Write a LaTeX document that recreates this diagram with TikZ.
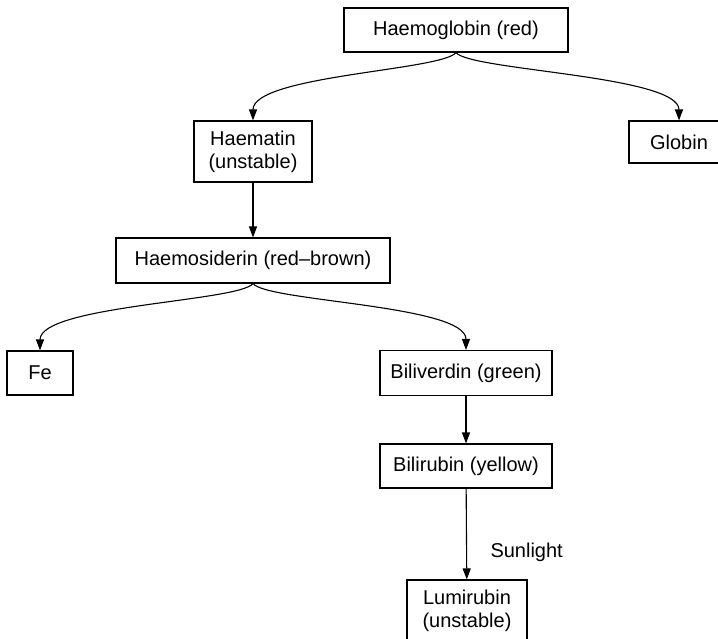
\documentclass[tikz,border=0pt]{standalone}
\usepackage{fontspec}
\setmainfont{Liberation Sans}
\usetikzlibrary{arrows.meta}

\begin{document}
\begin{tikzpicture}[
		x=1pt, y=-1pt,
		>={Triangle[length=11pt,width=8pt]},
		box/.style  ={rectangle,draw,line width=1.1pt,inner sep=0pt,align=center,
		              font=\fontsize{20}{23}\selectfont},
		link/.style ={draw,->,line width=1.1pt},
		split/.style={draw,->,line width=1.1pt}
		]

		\useasboundingbox (0,0) rectangle (718,638);

		% ---- top: haemoglobin and its two products ----
		\node[box,minimum width=224pt,minimum height=44pt] (hb)     at (456,30)    {Haemoglobin (red)};
		\node[box,minimum width=118pt,minimum height=61pt] (hmatin) at (253,151.5) {Haematin\\(unstable)};
		\node[box,minimum width=100pt,minimum height=42pt] (globin) at (679,142)   {Globin};

		% ---- haemosiderin and its split ----
		\node[box,minimum width=274pt,minimum height=45pt] (hsid)   at (253,260.5) {Haemosiderin (red--brown)};
		\node[box,minimum width=66pt, minimum height=44pt] (fe)     at (40,373)    {Fe};
		\node[box,minimum width=172pt,minimum height=45pt] (bv)     at (466,373)   {Biliverdin (green)};

		% ---- bile pigments ----
		\node[box,minimum width=172pt,minimum height=44pt] (br)     at (466,466)   {Bilirubin (yellow)};
		\node[box,minimum width=120pt,minimum height=62pt] (lumi)   at (467,611)   {Lumirubin\\(unstable)};
		\node[font=\fontsize{20}{23}\selectfont,anchor=west] (sun) at (487,552) {Sunlight};

		% ---- curved splits ----
		\draw[split] (hb.south) .. controls +(-14,18) and +(0,-45) .. (hmatin.north);
		\draw[split] (hb.south) .. controls +(14,18) and +(0,-45) .. (globin.north);
		\draw[split] (hsid.south) .. controls +(-14,18) and +(0,-45) .. (fe.north);
		\draw[split] (hsid.south) .. controls +(14,18) and +(0,-45) .. (bv.north);

		% ---- straight steps ----
		\draw[link] (hmatin) -- (hsid);
		\draw[link] (bv) -- (br);
		\draw[link] (br) -- (lumi);

	\end{tikzpicture}
\end{document}
